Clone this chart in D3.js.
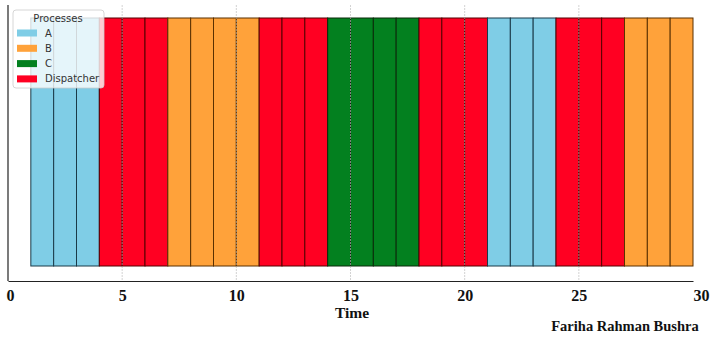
<!DOCTYPE html>
<html><head><meta charset="utf-8">
<script src="https://cdn.jsdelivr.net/npm/d3@7"></script>
<style>body{margin:0;background:#fff}svg{display:block}</style>
</head><body>
<script>
const processes = ["A","B","C","Dispatcher"];
const colors = ["#7fcde6","#ffa23a","#03801f","#ff0022"];
const segStart = [1,4,7,11,14,18,21,24,27];
const segEnd   = [4,7,11,14,18,21,24,27,30];
const segProc  = ["A","Dispatcher","B","Dispatcher","C","Dispatcher","A","Dispatcher","B"];
const tickVals = [0,5,10,15,20,25,30];

const W=722,H=361;
const svg=d3.select("body").append("svg").attr("width",W).attr("height",H);
const x=d3.scaleLinear().domain([0,30]).range([8,693]);
const y0=281, yTop=5, barTop=18, barBot=266;
const color=d3.scaleOrdinal().domain(processes).range(colors);
const darker={"A":"#1a3a48","B":"#5a3000","C":"#0a2a0a","Dispatcher":"#550000"};

// unit bars
const units=[];
segStart.forEach((s,i)=>{for(let t=s;t<segEnd[i];t++)units.push({t,p:segProc[i]});});
svg.append("g").selectAll("rect").data(units).join("rect")
 .attr("x",d=>x(d.t)).attr("y",barTop).attr("width",d=>x(d.t+1)-x(d.t)).attr("height",barBot-barTop)
 .attr("fill",d=>color(d.p)).attr("stroke",d=>darker[d.p]).attr("stroke-width",1);

// grid lines
svg.append("g").selectAll("line").data(tickVals.filter(v=>v>0&&v<30)).join("line")
 .attr("x1",d=>x(d)).attr("x2",d=>x(d)).attr("y1",yTop).attr("y2",y0)
 .attr("stroke","#bbb").attr("stroke-width",0.8).attr("stroke-dasharray","2,1").attr("opacity",0.8);

// axes
const axis=d3.axisBottom(x).tickValues(tickVals).tickSize(0).tickPadding(9).tickFormat(d3.format("d"));
const ag=svg.append("g").attr("transform",`translate(0,${y0})`).call(axis);
ag.select(".domain").attr("stroke","#222").attr("stroke-width",1.2);
ag.selectAll("text").attr("font-family","'Liberation Serif',serif").attr("font-weight","bold").attr("font-size",16).attr("fill","#111")
 .attr("dx",d=>d===0?2:(d===30?8:0));
svg.append("line").attr("x1",8).attr("x2",8).attr("y1",yTop).attr("y2",y0).attr("stroke","#222").attr("stroke-width",1.2);

svg.append("text").attr("x",352).attr("y",318).attr("text-anchor","middle")
 .attr("font-family","'Liberation Serif',serif").attr("font-weight","bold").attr("font-size",15.5).attr("fill","#111").text("Time");
svg.append("text").attr("x",625).attr("y",331).attr("text-anchor","middle")
 .attr("font-family","'Liberation Serif',serif").attr("font-weight","bold").attr("font-size",14.5).attr("fill","#111").text("Fariha Rahman Bushra");

// legend
const lg=svg.append("g");
lg.append("rect").attr("x",13).attr("y",10).attr("width",91).attr("height",78).attr("rx",3)
 .attr("fill","#fff").attr("fill-opacity",0.8).attr("stroke","#ccc").attr("stroke-width",0.8);
lg.append("text").attr("x",58).attr("y",22).attr("text-anchor","middle")
 .attr("font-family","'DejaVu Sans',sans-serif").attr("font-size",10).attr("fill","#333").text("Processes");
const items=lg.selectAll("g.it").data(processes).join("g").attr("class","it")
 .attr("transform",(d,i)=>`translate(0,${33+i*15.3})`);
items.append("rect").attr("x",17).attr("y",-3.5).attr("width",20).attr("height",7).attr("fill",d=>color(d));
items.append("text").attr("x",45).attr("y",3.5).attr("font-family","'DejaVu Sans',sans-serif").attr("font-size",10).attr("fill","#333").text(d=>d);
</script>
</body></html>
